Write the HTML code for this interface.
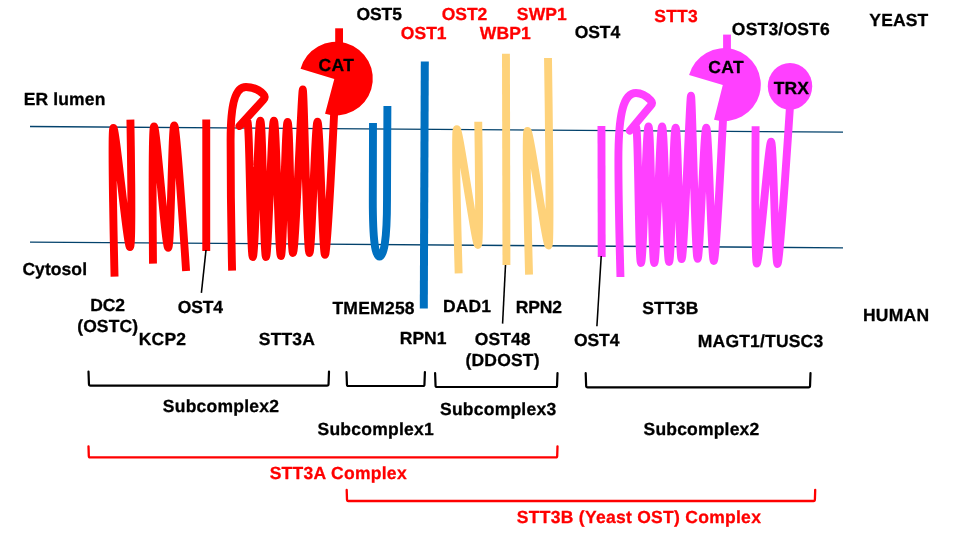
<!DOCTYPE html>
<html><head><meta charset="utf-8"><title>OST complexes</title>
<style>html,body{margin:0;padding:0;background:#fff;width:960px;height:540px;overflow:hidden}svg{display:block;will-change:transform}</style>
</head><body>
<svg width="960" height="540" viewBox="0 0 960 540">
<line x1="30" y1="126.5" x2="843" y2="132.2" stroke="#03426c" stroke-width="1.35" stroke-linecap="butt"/>
<line x1="30" y1="242.1" x2="843" y2="247.8" stroke="#03426c" stroke-width="1.35" stroke-linecap="butt"/>
<path d="M114.55,276.60 C114.55,276.60 111.00,127.90 113.40,127.90 C115.80,127.90 127.20,247.10 130.00,247.10 C132.80,247.10 130.40,119.60 130.40,119.60" fill="none" stroke="#ff0000" stroke-width="7.9" stroke-linejoin="round" stroke-linecap="butt"/>
<path d="M153.00,263.60 C153.00,263.60 151.65,126.55 154.05,126.55 C156.45,126.55 165.40,247.75 168.20,247.75 C171.00,247.75 171.85,125.45 174.25,125.45 C176.65,125.45 186.10,271.10 186.10,271.10" fill="none" stroke="#ff0000" stroke-width="7.9" stroke-linejoin="round" stroke-linecap="butt"/>
<line x1="206.25" y1="119.6" x2="206.25" y2="250.9" stroke="#ff0000" stroke-width="7.9" stroke-linecap="butt"/>
<line x1="206.0" y1="250.0" x2="201.4" y2="292.8" stroke="#000" stroke-width="1.55" stroke-linecap="butt"/>
<path d="M232.1,270.7 C231.3,235 230.6,190 230.6,140 C230.6,105 235,87 246,87 C253,87 259.5,90.3 263.4,94.2 Q266.2,97 263.3,99.8 L239.5,126 C239.50,126.00 244.90,121.30 247.30,121.30 C249.70,121.30 250.40,257.05 252.80,257.05 C255.20,257.05 257.95,120.65 260.35,120.65 C262.75,120.65 263.60,256.95 266.00,256.95 C268.40,256.95 271.50,120.65 273.90,120.65 C276.30,120.65 278.50,256.05 280.90,256.05 C283.30,256.05 285.20,121.95 287.60,121.95 C290.00,121.95 290.60,253.05 293.00,253.05 C295.40,253.05 301.60,89.55 302.80,89.55 C304.00,89.55 307.00,253.05 309.40,253.05 C311.80,253.05 315.10,121.75 317.50,121.75 C319.90,121.75 322.60,254.80 325.00,254.80 C327.40,254.80 334.20,112.00 334.20,112.00" fill="none" stroke="#ff0000" stroke-width="7.9" stroke-linejoin="round" stroke-linecap="butt"/>
<rect x="335.2" y="28.3" width="7.8" height="20" fill="#ff0000"/>
<path d="M334.3,79.1 L300.56,68.70 A36.8,36.8 0 1 1 325.06,113.74 Z" fill="#ff0000"/>
<path d="M373,122.9 L372.8,200 C372.8,241 375.3,256.6 379.5,256.6 C383.7,256.6 387,241 387,200 L387.4,106" fill="none" stroke="#0070c0" stroke-width="7.9" stroke-linejoin="round" stroke-linecap="butt"/>
<line x1="424.8" y1="61.6" x2="423.8" y2="308.4" stroke="#0070c0" stroke-width="8.0" stroke-linecap="butt"/>
<path d="M458.65,273.30 C458.65,273.30 454.45,129.25 456.85,129.25 C459.25,129.25 475.50,244.95 477.90,244.95 C480.30,244.95 478.25,121.80 478.25,121.80" fill="none" stroke="#fed27a" stroke-width="7.9" stroke-linejoin="round" stroke-linecap="butt"/>
<line x1="505.95" y1="53.7" x2="506.45" y2="265.1" stroke="#fed27a" stroke-width="7.9" stroke-linecap="butt"/>
<line x1="505.5" y1="265.0" x2="502.6" y2="323.6" stroke="#000" stroke-width="1.55" stroke-linecap="butt"/>
<path d="M529.05,274.70 C529.05,274.70 525.10,130.85 527.50,130.85 C529.90,130.85 546.15,245.45 548.55,245.45 C550.95,245.45 548.00,58.00 548.00,58.00" fill="none" stroke="#fed27a" stroke-width="7.9" stroke-linejoin="round" stroke-linecap="butt"/>
<line x1="601.45" y1="126" x2="601.7" y2="257.0" stroke="#ff40ff" stroke-width="7.9" stroke-linecap="butt"/>
<line x1="601.2" y1="256.0" x2="596.9" y2="326.3" stroke="#000" stroke-width="1.55" stroke-linecap="butt"/>
<path d="M620.45,277 C619.5,240 618.4,200 618.4,160 C618.4,115 623,93 636,93 C643,93 647,96.5 650.6,100.3 Q653.2,103 650.6,105.8 L629.8,130.7 C629.80,130.70 633.60,127.00 636.00,127.00 C638.40,127.00 638.60,263.05 641.00,263.05 C643.40,263.05 646.10,126.45 648.50,126.45 C650.90,126.45 651.90,263.05 654.30,263.05 C656.70,263.05 659.70,126.45 662.10,126.45 C664.50,126.45 666.70,261.95 669.10,261.95 C671.50,261.95 673.25,127.65 675.65,127.65 C678.05,127.65 679.25,259.15 681.65,259.15 C684.05,259.15 689.80,95.65 691.00,95.65 C692.20,95.65 695.20,258.85 697.60,258.85 C700.00,258.85 703.85,127.65 706.25,127.65 C708.65,127.65 711.40,260.95 713.80,260.95 C716.20,260.95 723.10,118.00 723.10,118.00" fill="none" stroke="#ff40ff" stroke-width="7.9" stroke-linejoin="round" stroke-linecap="butt"/>
<rect x="723.1" y="34.6" width="7.8" height="20" fill="#ff40ff"/>
<path d="M722.8,85.0 L689.07,75.05 A36.5,36.5 0 1 1 714.03,119.63 Z" fill="#ff40ff"/>
<path d="M755.60,126.30 C755.60,126.30 754.45,263.45 756.85,263.45 C759.25,263.45 768.70,141.65 771.10,141.65 C773.50,141.65 775.10,263.95 777.50,263.95 C779.90,263.95 790.40,100.00 790.40,100.00" fill="none" stroke="#ff40ff" stroke-width="7.9" stroke-linejoin="round" stroke-linecap="butt"/>
<ellipse cx="790.0" cy="86.3" rx="22.2" ry="23.4" fill="#ff40ff"/>
<path d="M88.5,371.5 L88.95,384.09999999999997 Q88.95,385.7 90.55,385.7 L326.95,385.7 Q328.55,385.7 328.55,384.09999999999997 L329.0,371.5" fill="none" stroke="#000" stroke-width="2.2" stroke-linejoin="round" stroke-linecap="round"/>
<path d="M346.5,372.2 L346.95,384.4 Q346.95,386.0 348.55,386.0 L422.84999999999997,386.0 Q424.45,386.0 424.45,384.4 L424.9,372.0" fill="none" stroke="#000" stroke-width="2.2" stroke-linejoin="round" stroke-linecap="round"/>
<path d="M435.1,373.0 L435.55,385.4 Q435.55,387.0 437.15000000000003,387.0 L555.4499999999999,387.0 Q557.05,387.0 557.05,385.4 L557.5,373.0" fill="none" stroke="#000" stroke-width="2.2" stroke-linejoin="round" stroke-linecap="round"/>
<path d="M585.7,373.2 L586.1500000000001,385.7 Q586.1500000000001,387.3 587.7500000000001,387.3 L808.4499999999999,387.3 Q810.05,387.3 810.05,385.7 L810.5,373.0" fill="none" stroke="#000" stroke-width="2.2" stroke-linejoin="round" stroke-linecap="round"/>
<path d="M88.5,446.3 L88.8,456.0 Q88.8,457.4 90.2,457.4 L555.8000000000001,457.4 Q557.2,457.4 557.2,456.0 L557.5,446.3" fill="none" stroke="#ff0000" stroke-width="2.3" stroke-linejoin="round" stroke-linecap="round"/>
<path d="M346.7,490.0 L347.0,499.6 Q347.0,501.0 348.4,501.0 L813.5000000000001,501.0 Q814.9000000000001,501.0 814.9000000000001,499.6 L815.2,489.9" fill="none" stroke="#ff0000" stroke-width="2.3" stroke-linejoin="round" stroke-linecap="round"/>
<g font-family="Liberation Sans, Arial, Helvetica, sans-serif" font-weight="bold" font-size="17.5" stroke-width="0.3" stroke-linejoin="round" text-rendering="geometricPrecision">
<text x="356.52" y="19.8" fill="#000" stroke="#000" letter-spacing="-0.117">OST5</text>
<text x="441.84" y="19.7" fill="#ff0000" stroke="#ff0000" letter-spacing="-0.089">OST2</text>
<text x="516.87" y="19.6" fill="#ff0000" stroke="#ff0000" letter-spacing="0.133">SWP1</text>
<text x="400.84" y="39.25" fill="#ff0000" stroke="#ff0000" letter-spacing="0.009">OST1</text>
<text x="479.7" y="38.73" fill="#ff0000" stroke="#ff0000" letter-spacing="0.189">WBP1</text>
<text x="574.82" y="37.83" fill="#000" stroke="#000" letter-spacing="-0.113">OST4</text>
<text x="654.29" y="21.75" fill="#ff0000" stroke="#ff0000" letter-spacing="0.2">STT3</text>
<text x="731.82" y="35.05" fill="#000" stroke="#000" letter-spacing="0.208">OST3/OST6</text>
<text x="869.36" y="26.35" fill="#000" stroke="#000" letter-spacing="0.117">YEAST</text>
<text x="23.64" y="104.65" fill="#000" stroke="#000" letter-spacing="0.153">ER lumen</text>
<text x="22.42" y="274.88" fill="#000" stroke="#000" letter-spacing="0.069">Cytosol</text>
<text x="90.19" y="310.92" fill="#000" stroke="#000" letter-spacing="-0.055">DC2</text>
<text x="77.26" y="331.7" fill="#000" stroke="#000" letter-spacing="0.089">(OSTC)</text>
<text x="138.7" y="344.75" fill="#000" stroke="#000" letter-spacing="0.236">KCP2</text>
<text x="177.86" y="313.05" fill="#000" stroke="#000" letter-spacing="-0.224">OST4</text>
<text x="258.84" y="344.6" fill="#000" stroke="#000" letter-spacing="0.161">STT3A</text>
<text x="332.43" y="314.15" fill="#000" stroke="#000" letter-spacing="0.245">TMEM258</text>
<text x="443.0" y="312.3" fill="#000" stroke="#000" letter-spacing="0.084">DAD1</text>
<text x="515.7" y="313.35" fill="#000" stroke="#000" letter-spacing="-0.096">RPN2</text>
<text x="399.7" y="344.2" fill="#000" stroke="#000" letter-spacing="0.051">RPN1</text>
<text x="474.65" y="344.5" fill="#000" stroke="#000" letter-spacing="0.126">OST48</text>
<text x="465.51" y="366.0" fill="#000" stroke="#000" letter-spacing="0.182">(DDOST)</text>
<text x="642.17" y="313.6" fill="#000" stroke="#000" letter-spacing="0.209">STT3B</text>
<text x="574.06" y="345.98" fill="#000" stroke="#000" letter-spacing="-0.124">OST4</text>
<text x="697.8" y="347.15" fill="#000" stroke="#000" letter-spacing="0.184">MAGT1/TUSC3</text>
<text x="862.94" y="320.75" fill="#000" stroke="#000" letter-spacing="0.255">HUMAN</text>
<text x="162.84" y="412.49" fill="#000" stroke="#000" letter-spacing="0.238">Subcomplex2</text>
<text x="439.99" y="415.1" fill="#000" stroke="#000" letter-spacing="0.235">Subcomplex3</text>
<text x="317.52" y="435.0" fill="#000" stroke="#000" letter-spacing="0.246">Subcomplex1</text>
<text x="643.52" y="435.0" fill="#000" stroke="#000" letter-spacing="0.191">Subcomplex2</text>
<text x="269.67" y="479.17" fill="#ff0000" stroke="#ff0000" letter-spacing="0.285">STT3A Complex</text>
<text x="516.8" y="523.47" fill="#ff0000" stroke="#ff0000" letter-spacing="0.283">STT3B (Yeast OST) Complex</text>
<text x="318.47" y="70.7" fill="#000" stroke="#000" letter-spacing="0.427">CAT</text>
<text x="708.28" y="73.15" fill="#000" stroke="#000" letter-spacing="0.368">CAT</text>
<text x="773.8" y="94.25" fill="#000" stroke="#000" letter-spacing="0.039">TRX</text>
</g>
</svg>
</body></html>
